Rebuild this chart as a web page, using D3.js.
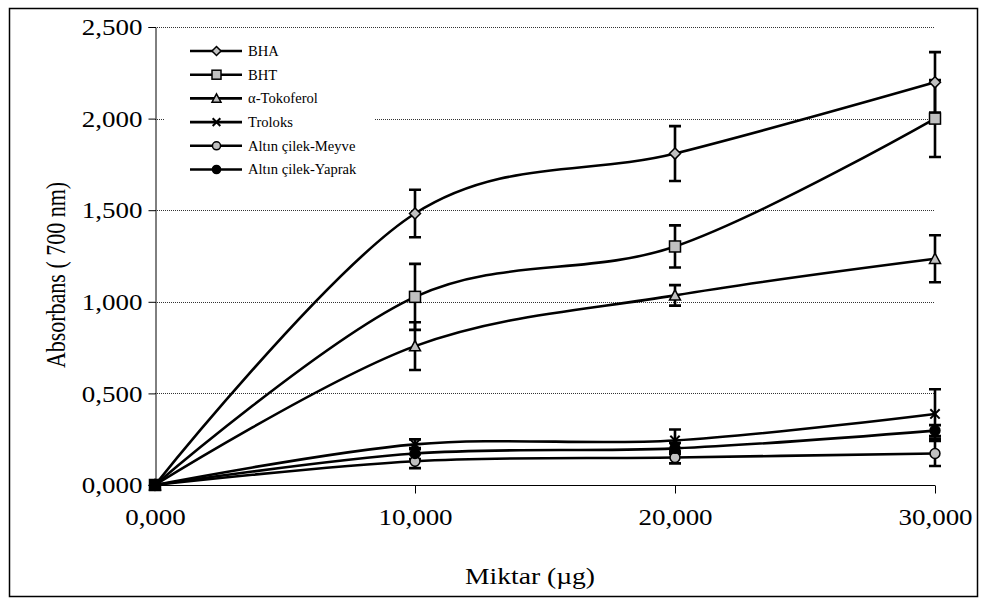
<!DOCTYPE html>
<html>
<head>
<meta charset="utf-8">
<script src="https://cdn.jsdelivr.net/npm/d3@7/dist/d3.min.js"></script>
<style>
  html, body { margin: 0; padding: 0; background: #fff; }
  svg { display: block; }
  text { font-family: "Liberation Serif", "Times New Roman", serif; fill: #000; }
</style>
</head>
<body>
<svg id="chart" width="987" height="607"></svg>
<script>
// Amount of sample (µg) on the x axis
const doses = [0, 10000, 20000, 30000];
const xTicks = [0, 10000, 20000, 30000];
const yTicks = [0, 0.5, 1.0, 1.5, 2.0, 2.5];

// Series names, in legend order
const seriesNames = ["BHA", "BHT", "α-Tokoferol", "Troloks", "Altın çilek-Meyve", "Altın çilek-Yaprak"];

// Absorbance at 700 nm per dose, with standard deviations
const bhaValues      = [0, 1.482, 1.809, 2.198];
const bhaErrors      = [0, 0.130, 0.150, 0.165];
const bhtValues      = [0, 1.027, 1.302, 2.000];
const bhtErrors      = [0, 0.180, 0.115, 0.210];
const tokoferolValues = [0, 0.758, 1.035, 1.235];
const tokoferolErrors = [0, 0.130, 0.056, 0.128];
const troloksValues  = [0, 0.222, 0.243, 0.388];
const troloksErrors  = [0, 0.027, 0.060, 0.135];
const meyveValues    = [0, 0.130, 0.150, 0.172];
const meyveErrors    = [0, 0.038, 0.032, 0.068];
const yaprakValues   = [0, 0.172, 0.200, 0.297];
const yaprakErrors   = [0, 0.030, 0.030, 0.030];

const markerKinds = ["diamond", "square", "triangle", "cross", "circle", "dot"];
const valueSets = [bhaValues, bhtValues, tokoferolValues, troloksValues, meyveValues, yaprakValues];
const errorSets = [bhaErrors, bhtErrors, tokoferolErrors, troloksErrors, meyveErrors, yaprakErrors];

const series = seriesNames.map((name, i) => ({
  name,
  kind: markerKinds[i],
  points: doses.map((d, j) => ({ x: d, y: valueSets[i][j], e: errorSets[i][j] }))
}));

const svg = d3.select("#chart");
const plot = { left: 155, right: 935, top: 27, bottom: 485 };
const stretch = 1.2; // wide lettering of the labels

const x = d3.scaleLinear().domain([0, 30000]).range([plot.left, plot.right]);
const y = d3.scaleLinear().domain([0, 2.5]).range([plot.bottom, plot.top]);

// decimal comma with three decimals, e.g. 0.5 -> "0,500"
const yFmt = v => d3.format(".3f")(v).replace(".", ",");
const xLabel = v => (v === 0 ? "0,000" : d3.format(",")(v));

// outer frame
svg.append("rect")
  .attr("x", 9.5).attr("y", 8.5).attr("width", 968).attr("height", 588)
  .attr("fill", "#fff").attr("stroke", "#000").attr("stroke-width", 1.5);

// dotted horizontal gridlines
svg.append("g").selectAll("line")
  .data(yTicks.filter(t => t > 0))
  .join("line")
  .attr("x1", plot.left).attr("x2", plot.right)
  .attr("y1", d => Math.round(y(d)) + 0.5).attr("y2", d => Math.round(y(d)) + 0.5)
  .attr("stroke", "#333").attr("stroke-width", 1).attr("stroke-dasharray", "1,1");

// y axis
const yAxis = d3.axisLeft(y).tickValues(yTicks).tickSize(7).tickFormat(yFmt);
const gy = svg.append("g").attr("transform", `translate(${plot.left + 0.5},0)`).call(yAxis);
gy.attr("font-family", null);
gy.select(".domain").attr("stroke", "#000");
gy.selectAll(".tick line").attr("stroke", "#000");
gy.selectAll(".tick text")
  .attr("x", 0).attr("dy", "0.34em")
  .attr("font-size", 22.5)
  .attr("text-anchor", "end")
  .attr("transform", `translate(-13,0) scale(${stretch},1)`);

// x axis
const xAxis = d3.axisBottom(x).tickValues(xTicks).tickSize(8).tickFormat(xLabel);
const gx = svg.append("g").attr("transform", `translate(0,${plot.bottom + 0.5})`).call(xAxis);
gx.attr("font-family", null);
gx.select(".domain").attr("stroke", "#000").attr("d", `M${plot.left},0H${plot.right}`);
gx.selectAll(".tick line").attr("stroke", "#000").attr("y2", d => (d === 0 ? 0 : 8));
gx.selectAll(".tick text")
  .attr("y", 0).attr("dy", 0)
  .attr("font-size", 22.5)
  .attr("text-anchor", "middle")
  .attr("transform", `translate(0,39) scale(${stretch},1)`);

// axis titles
svg.append("text")
  .attr("transform", `translate(530,584) scale(${stretch},1)`)
  .attr("text-anchor", "middle")
  .attr("font-size", 23)
  .text("Miktar (µg)");

svg.append("text")
  .attr("transform", `translate(65,275) scale(${stretch},1) rotate(-90)`)
  .attr("text-anchor", "middle")
  .attr("font-size", 22)
  .text("Absorbans ( 700 nm)");

// smoothed series lines
const line = d3.line()
  .x(d => x(d.x)).y(d => y(d.y))
  .curve(d3.curveCardinal.tension(0));

const gLines = svg.append("g");
series.forEach(s => {
  gLines.append("path")
    .datum(s.points)
    .attr("d", line)
    .attr("fill", "none")
    .attr("stroke", "#000")
    .attr("stroke-width", 2.6);
});

// error bars
const cap = 6;
const gErr = svg.append("g");
series.forEach(s => {
  s.points.filter(p => p.e > 0).forEach(p => {
    const cx = x(p.x), y0 = y(p.y - p.e), y1 = y(p.y + p.e);
    gErr.append("path")
      .attr("d", `M${cx},${y0}V${y1}M${cx - cap},${y0}H${cx + cap}M${cx - cap},${y1}H${cx + cap}`)
      .attr("fill", "none")
      .attr("stroke", "#000")
      .attr("stroke-width", 2.6);
  });
});

// marker shapes
function drawMarker(g, kind, cx, cy, size, dark) {
  const grey = dark ? "#000" : "#c0c0c0";
  const r = size / 2;
  if (kind === "diamond") {
    g.append("path")
      .attr("d", `M${cx},${cy - r}L${cx + r},${cy}L${cx},${cy + r}L${cx - r},${cy}Z`)
      .attr("fill", grey).attr("stroke", "#000").attr("stroke-width", 1.5);
  } else if (kind === "square") {
    g.append("rect")
      .attr("x", cx - r).attr("y", cy - r).attr("width", size).attr("height", size)
      .attr("fill", grey).attr("stroke", "#000").attr("stroke-width", 1.5);
  } else if (kind === "triangle") {
    g.append("path")
      .attr("d", `M${cx},${cy - r}L${cx + r},${cy + r * 0.85}L${cx - r},${cy + r * 0.85}Z`)
      .attr("fill", grey).attr("stroke", "#000").attr("stroke-width", 1.5);
  } else if (kind === "cross") {
    const k = r * 0.85;
    g.append("path")
      .attr("d", `M${cx - k},${cy - k}L${cx + k},${cy + k}M${cx - k},${cy + k}L${cx + k},${cy - k}`)
      .attr("stroke", "#000").attr("stroke-width", 2);
  } else if (kind === "circle") {
    g.append("circle").attr("cx", cx).attr("cy", cy).attr("r", r * 0.9)
      .attr("fill", grey).attr("stroke", "#000").attr("stroke-width", 1.5);
  } else if (kind === "dot") {
    g.append("circle").attr("cx", cx).attr("cy", cy).attr("r", r * 0.9)
      .attr("fill", "#000").attr("stroke", "#000").attr("stroke-width", 1.5);
  }
}

const gMarks = svg.append("g");
series.forEach(s => {
  s.points.forEach(p => {
    drawMarker(gMarks, s.kind, x(p.x), y(p.y), 11, p.y === 0);
  });
});

// legend
const legend = svg.append("g");
legend.append("rect")
  .attr("x", 165).attr("y", 36).attr("width", 210).attr("height", 148)
  .attr("fill", "#fff");
const legY0 = 51, legStep = 23.7;
series.forEach((s, i) => {
  const ly = legY0 + i * legStep;
  legend.append("line")
    .attr("x1", 190).attr("x2", 242).attr("y1", ly).attr("y2", ly)
    .attr("stroke", "#000").attr("stroke-width", 2.6);
  drawMarker(legend, s.kind, 216.5, ly, 9, false);
  legend.append("text")
    .attr("x", 248).attr("y", ly).attr("dy", "0.34em")
    .attr("font-size", 14.6)
    .text(s.name);
});
</script>
</body>
</html>
